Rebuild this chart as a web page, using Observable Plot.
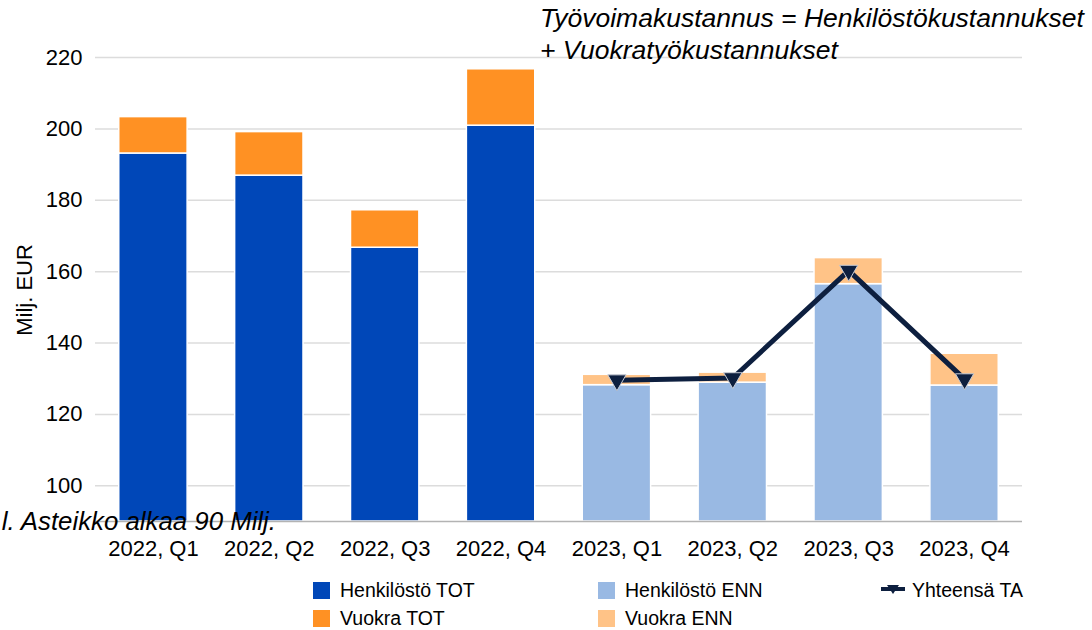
<!DOCTYPE html>
<html><head><meta charset="utf-8">
<script src="https://cdn.jsdelivr.net/npm/d3@7"></script>
<script src="https://cdn.jsdelivr.net/npm/@observablehq/plot@0.6"></script>
<style>
body{margin:0;background:#fff;font-family:"Liberation Sans",Arial,sans-serif;color:#000;}
#wrap{position:relative;width:1092px;height:630px;overflow:hidden;}
#chart{position:absolute;left:0;top:0;}
.abs{position:absolute;white-space:nowrap;}
.title{left:540px;top:2px;font-size:26.5px;font-style:italic;line-height:32px;}
.note{right:816px;top:505px;font-size:25.8px;font-style:italic;line-height:32px;text-align:right;}
.ylab{left:25px;top:290px;font-size:22px;transform:translate(-50%,-50%) rotate(-90deg);}
.leg{font-size:19.5px;line-height:20px;display:flex;align-items:center;}
.sw{width:17px;height:17px;margin-right:10px;}
</style></head><body><div id="wrap"><div id="chart"></div></div>
<script>
const quarters = ["2022, Q1","2022, Q2","2022, Q3","2022, Q4","2023, Q1","2023, Q2","2023, Q3","2023, Q4"];
const henkTOT   = [193.1, 186.9, 166.7, 200.9];
const vuokraTOT = [10.2, 12.2, 10.5, 15.8];
const henkENN   = [128.2, 128.9, 156.5, 128.1];
const vuokraENN = [2.9, 2.8, 7.3, 8.9];
const yhteensaTA = [129.6, 130.2, 160.3, 129.9];
const yTicks = [100, 120, 140, 160, 180, 200, 220];
const scaleStart = 90;
const seriesNames = ["Henkilöstö TOT", "Vuokra TOT", "Henkilöstö ENN", "Vuokra ENN"];
const seriesColors = ["#0047b8", "#ff9123", "#99b9e3", "#ffc387"];
const lineName = "Yhteensä TA";
const lineColor = "#0d1f3f";

const rows = [];
for (let i = 0; i < 4; i++) {
  rows.push({q: quarters[i], s: seriesNames[0], y1: scaleStart, y2: henkTOT[i]});
  rows.push({q: quarters[i], s: seriesNames[1], y1: henkTOT[i], y2: henkTOT[i] + vuokraTOT[i]});
  rows.push({q: quarters[i + 4], s: seriesNames[2], y1: scaleStart, y2: henkENN[i]});
  rows.push({q: quarters[i + 4], s: seriesNames[3], y1: henkENN[i], y2: henkENN[i] + vuokraENN[i]});
}
const lineRows = yhteensaTA.map((v, i) => ({q: quarters[i + 4], v}));

const chart = Plot.plot({
  width: 1092, height: 570,
  marginLeft: 95, marginRight: 70, marginTop: 57, marginBottom: 49,
  style: {fontFamily: "'Liberation Sans', Arial, sans-serif", fontSize: "22px", color: "#000", background: "transparent", overflow: "visible"},
  x: {domain: quarters, paddingInner: 0.41, paddingOuter: 0.205, round: false, label: null, tickSize: 0, tickPadding: 19},
  y: {domain: [scaleStart, 220], ticks: yTicks, label: null, tickSize: 0, tickPadding: 13},
  color: {domain: seriesNames, range: seriesColors},
  marks: [
    Plot.ruleY(yTicks, {stroke: "#dcdcdc", strokeWidth: 1.5}),
    Plot.barY(rows, {x: "q", y1: "y1", y2: "y2", fill: "s", stroke: "#fff", strokeWidth: 1.5}),
    Plot.ruleY([scaleStart], {stroke: "#b3b3b3", strokeWidth: 1.5}),
    Plot.line(lineRows, {x: "q", y: "v", stroke: lineColor, strokeWidth: 5}),
    Plot.dot(lineRows, {x: "q", y: "v", symbol: "triangle", rotate: 180, r: 6.8, fill: lineColor, stroke: "#c9cdd6", strokeWidth: 1})
  ]
});
document.getElementById("chart").appendChild(chart);

const wrap = document.getElementById("wrap");
function add(cls, html, style) {
  const d = document.createElement("div");
  d.className = "abs " + cls;
  d.innerHTML = html;
  if (style) Object.assign(d.style, style);
  wrap.appendChild(d);
  return d;
}
add("title", "Työvoimakustannus = Henkilöstökustannukset<br>+ Vuokratyökustannukset");
add("note", "l. Asteikko alkaa 90 Milj.");
add("ylab", "Milj. EUR");
const legPos = [[313, 580], [313, 608], [598, 580], [598, 608]];
seriesNames.forEach((n, i) => {
  add("leg", `<span class="sw" style="background:${seriesColors[i]}"></span>${n}`, {left: legPos[i][0] + "px", top: legPos[i][1] + "px"});
});
add("leg", `<svg width="26" height="17" style="margin-right:6px"><line x1="1" y1="7" x2="25" y2="7" stroke="${lineColor}" stroke-width="4"/><path d="M7,3 L19,3 L13,12 Z" fill="${lineColor}"/></svg>${lineName}`, {left: "880px", top: "580px"});
</script></body></html>
